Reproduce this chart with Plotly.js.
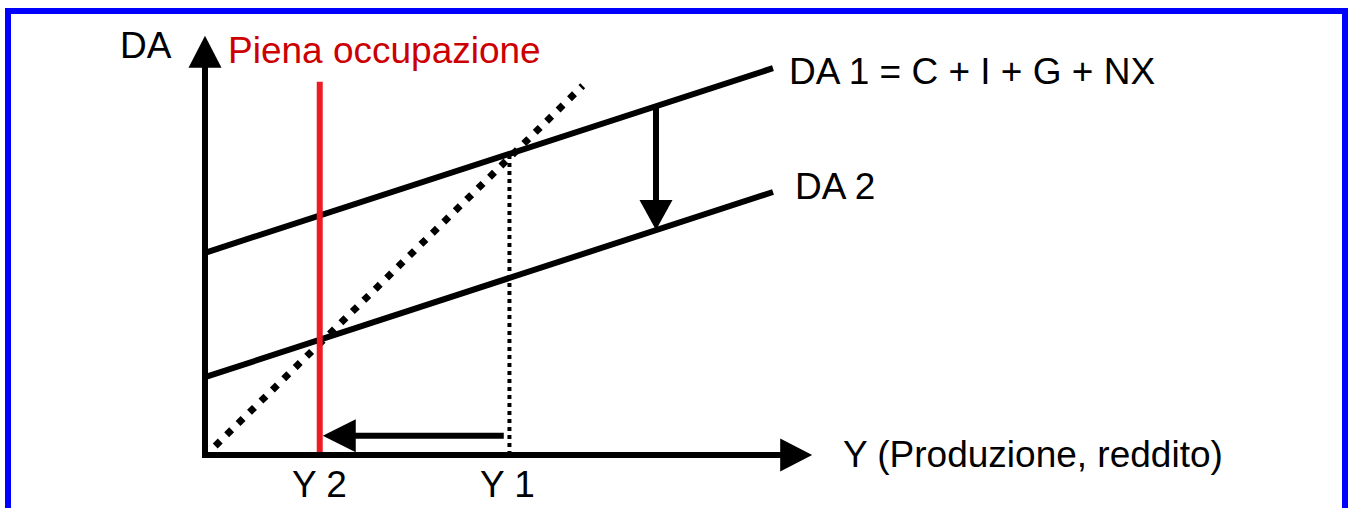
<!DOCTYPE html>
<html>
<head>
<meta charset="utf-8">
<script src="https://cdn.plot.ly/plotly-3.0.1.min.js"></script>
<style>
  html, body { margin: 0; padding: 0; background: #ffffff; overflow: hidden; }
  #chart { position: absolute; left: 0; top: 0; width: 1354px; height: 508px; }
  #frame { position: absolute; left: 5px; top: 8px; width: 1331px; height: 520px;
           border: 6px solid #0000ff; pointer-events: none; }
</style>
</head>
<body>
<div id="chart"></div>
<div id="frame"></div>
<script>
// ---- data (model units) ----
const DA_X = [0, 10];              // Y range over which DA curves are drawn
const DA1_Y = [3.56, 6.81];        // DA 1 = C + I + G + NX
const DA2_Y = [1.37, 4.63];        // DA 2
const LINE45_X = [0.18, 6.65];     // 45-degree line (Y = DA)
const LINE45_Y = [0.16, 6.50];
const Y1 = 5.36;                   // equilibrium output with DA 1
const Y2 = 2.02;                   // full employment output (DA 2)
const Y1_DA = 5.30;                // DA level at Y1
const FULL_EMP_TOP = [0, 6.57];    // red vertical line extent
const SHIFT_X = 7.94;              // x of the downward shift arrow
const SHIFT_FROM = 6.14;           // DA1 at SHIFT_X
const SHIFT_TO = 3.96;             // DA2 at SHIFT_X
const MOVE_Y = 0.34;               // height of the leftward arrow
const MOVE_FROM = 5.26;            // start x of leftward arrow
const AXIS_MAX = [10.69, 7.38];    // arrow tips of x and y axes
const TICK_LABELS = ['Y 2', 'Y 1'];
const TICK_VALS = [Y2, Y1];

// ---- scale (pixels per unit) ----
const W = 1354, H = 508;
const S = 56.8;
const OX = 205, OY = 455;
const xr = [-OX / S, (W - OX) / S];
const yr = [-(H - OY) / S, OY / S];
const p = v => v / S;  // pixel length to data length

const FONT = 'Liberation Sans, Arial, sans-serif';
const FS = 37;

function head(tx, ty, dir, len, wid) {
  const L = p(len), Wd = p(wid) / 2;
  let xs, ys;
  if (dir === 'up')    { xs = [tx - Wd, tx + Wd, tx]; ys = [ty - L, ty - L, ty]; }
  if (dir === 'down')  { xs = [tx - Wd, tx + Wd, tx]; ys = [ty + L, ty + L, ty]; }
  if (dir === 'right') { xs = [tx - L, tx - L, tx]; ys = [ty - Wd, ty + Wd, ty]; }
  if (dir === 'left')  { xs = [tx + L, tx + L, tx]; ys = [ty - Wd, ty + Wd, ty]; }
  return { x: xs.concat([xs[0]]), y: ys.concat([ys[0]]), type: 'scatter', mode: 'lines',
           fill: 'toself', fillcolor: '#000', line: { width: 0, color: '#000' },
           hoverinfo: 'skip', showlegend: false };
}
function seg(xs, ys, color, width, dash) {
  return { x: xs, y: ys, type: 'scatter', mode: 'lines',
           line: { color: color, width: width, dash: dash || 'solid' },
           hoverinfo: 'skip', showlegend: false };
}

const traces = [
  // 45-degree dotted line
  seg(LINE45_X, LINE45_Y, '#000', 7, '7px,9px'),
  // dotted vertical at Y1
  seg([Y1, Y1], [0, Y1_DA], '#000', 4, '4px,4px'),
  // DA curves
  seg(DA_X, DA1_Y, '#000', 6),
  seg(DA_X, DA2_Y, '#000', 6),
  // full employment line
  seg([Y2, Y2], FULL_EMP_TOP, '#ED1C24', 6),
  // axes
  seg([0, 0], [0, AXIS_MAX[1] - p(30)], '#000', 6),
  seg([-p(3), AXIS_MAX[0] - p(30)], [0, 0], '#000', 6),
  head(0, AXIS_MAX[1], 'up', 32, 33),
  head(AXIS_MAX[0], 0, 'right', 32, 33),
  // downward shift arrow
  seg([SHIFT_X, SHIFT_X], [SHIFT_FROM, SHIFT_TO + p(28)], '#000', 6),
  head(SHIFT_X, SHIFT_TO, 'down', 30, 33),
  // leftward move arrow
  seg([MOVE_FROM, Y2 + p(30)], [MOVE_Y, MOVE_Y], '#000', 6),
  head(Y2 + p(3), MOVE_Y, 'left', 33, 33)
];

const txt = (text, x, y, xa, color) => ({
  text: text, x: x, y: y, xref: 'x', yref: 'y', xanchor: xa, yanchor: 'middle',
  showarrow: false, font: { family: FONT, size: FS, color: color || '#000' }
});

const annotations = [
  txt('DA', -p(31), p(455 - 45), 'right'),
  txt('Piena occupazione', p(21), p(455 - 50), 'left', '#CC0000'),
  txt('DA 1 = C + I + G + NX', DA_X[1] + p(14), DA1_Y[1] - p(3), 'left'),
  txt('DA 2', DA_X[1] + p(20), DA2_Y[1] + p(6), 'left'),
  txt('Y (Produzione, reddito)', AXIS_MAX[0] + p(29), p(1), 'left'),
  txt(TICK_LABELS[0], TICK_VALS[0], -p(29), 'center'),
  txt(TICK_LABELS[1], TICK_VALS[1] - p(2), -p(29), 'center')
];

const layout = {
  width: W, height: H,
  margin: { l: 0, r: 0, t: 0, b: 0 },
  paper_bgcolor: '#fff', plot_bgcolor: '#fff',
  xaxis: { range: xr, visible: false, fixedrange: true },
  yaxis: { range: yr, visible: false, fixedrange: true },
  showlegend: false,
  annotations: annotations
};

Plotly.newPlot('chart', traces, layout, { staticPlot: true, displayModeBar: false });
</script>
</body>
</html>
